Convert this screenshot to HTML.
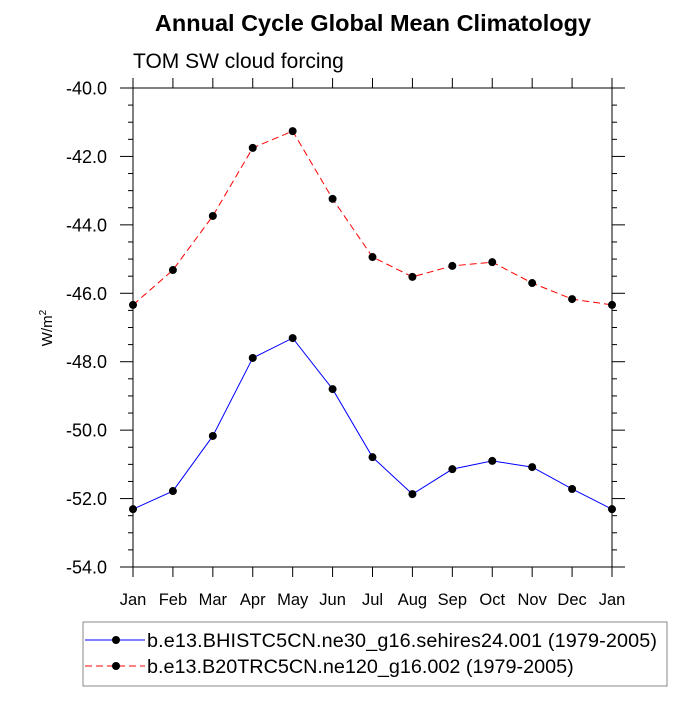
<!DOCTYPE html>
<html><head><meta charset="utf-8"><style>
body{margin:0;background:#fff}
svg{font-family:"Liberation Sans",sans-serif}
</style></head><body>
<svg id="c" width="700" height="700" viewBox="0 0 700 700">
<text x="373" y="31" text-anchor="middle" font-size="23.5" font-weight="bold">Annual Cycle Global Mean Climatology</text>
<text x="133" y="68" font-size="21">TOM SW cloud forcing</text>
<text transform="translate(52,328) rotate(-90)" text-anchor="middle" font-size="15">W/m<tspan dy="-6" font-size="10">2</tspan></text>
<g id="axes"></g>
<g id="series"></g>
<g>
<rect x="83" y="622" width="584" height="64" fill="none" stroke="#888" stroke-width="1"/>
<g>
<line x1="85" y1="640" x2="145" y2="640" stroke="#0000ff" stroke-width="1"/>
<circle cx="116" cy="640" r="4" fill="#000"/>
<text x="147" y="647" font-size="19.8" textLength="510">b.e13.BHISTC5CN.ne30_g16.sehires24.001 (1979-2005)</text>
</g>
<g>
<line x1="85" y1="666" x2="145" y2="666" stroke="#ff0000" stroke-width="1" stroke-dasharray="7,4"/>
<circle cx="116" cy="666" r="4" fill="#000"/>
<text x="147" y="673" font-size="19.8">b.e13.B20TRC5CN.ne120_g16.002 (1979-2005)</text>
</g>
</g>
</svg>
<script>
const months = ["Jan","Feb","Mar","Apr","May","Jun","Jul","Aug","Sep","Oct","Nov","Dec","Jan"];
const blueValues = [-52.31,-51.78,-50.17,-47.89,-47.31,-48.8,-50.79,-51.87,-51.14,-50.9,-51.08,-51.72,-52.31];
const redValues = [-46.34,-45.32,-43.74,-41.75,-41.26,-43.24,-44.94,-45.52,-45.2,-45.09,-45.7,-46.17,-46.34];
const yTicks = [-40,-42,-44,-46,-48,-50,-52,-54];
const yTickLabels = ["-40.0","-42.0","-44.0","-46.0","-48.0","-50.0","-52.0","-54.0"];

const NS="http://www.w3.org/2000/svg";
const L=133,R=612,T=88,B=567,yMin=-54,yMax=-40;
const xs=i=>L+(R-L)*i/(months.length-1);
const ys=v=>T+(yMax-v)/(yMax-yMin)*(B-T);
function mk(tag,attrs,parent){const e=document.createElementNS(NS,tag);for(const k in attrs)e.setAttribute(k,attrs[k]);parent.appendChild(e);return e;}
const ax=document.getElementById('axes');
const frame=mk('rect',{x:L,y:T,width:R-L,height:B-T,fill:'none',stroke:'#000','stroke-width':1},ax);


for(let v=yMin;v<=yMax+1e-9;v+=0.5){
  const y=ys(v);const major=Math.abs(v/2-Math.round(v/2))<1e-6;
  const len=major?13:5;
  mk('line',{x1:L-len,y1:y,x2:L,y2:y,stroke:'#000'},ax);
  mk('line',{x1:R,y1:y,x2:R+len,y2:y,stroke:'#000'},ax);
}
yTicks.forEach((v,i)=>{
  const t=mk('text',{x:107,y:ys(v)+6.5,'text-anchor':'end','font-size':18},ax);
  t.textContent=yTickLabels[i];
  
  
});
months.forEach((m,i)=>{
  const x=xs(i);
  mk('line',{x1:x,y1:B,x2:x,y2:B+10,stroke:'#000'},ax);
  mk('line',{x1:x,y1:T,x2:x,y2:T-10,stroke:'#000'},ax);
  const t=mk('text',{x:x,y:605,'text-anchor':'middle','font-size':16.5},ax);
  t.textContent=m;
  
  
});
const sg=document.getElementById('series');
function draw(vals,color,dash,name){
  const g=mk('g',{},sg);
  
  
  const p=mk('polyline',{points:vals.map((v,i)=>xs(i)+','+ys(v)).join(' '),fill:'none',stroke:color,'stroke-width':1},g);
  if(dash)p.setAttribute('stroke-dasharray',dash);
  vals.forEach((v,i)=>{
    const c=mk('circle',{cx:xs(i),cy:ys(v),r:4,fill:'#000'},g);
    
    
  });
}
draw(redValues,'#ff0000','7,4','series-red');
draw(blueValues,'#0000ff',null,'series-blue');
</script>
</body></html>
